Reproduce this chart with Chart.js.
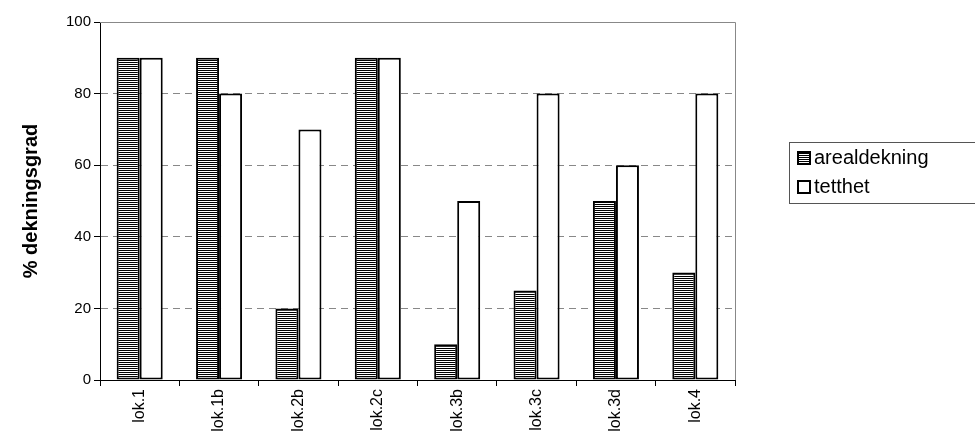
<!DOCTYPE html>
<html>
<head>
<script src="https://cdn.jsdelivr.net/npm/chart.js@4"></script>
<style>
body { margin: 0; background: #fff; font-family: "Liberation Sans", Arial, sans-serif; }
#wrap { position: relative; width: 975px; height: 448px; }
#legend { position: absolute; left: 789px; top: 142px; width: 190px; height: 62px; border: 1px solid #555; border-right: none; box-sizing: border-box; font-size: 20px; }
.item { display: flex; align-items: center; height: 29px; padding-left: 7px; }
.box { width: 14px; height: 14px; border: 2px solid #000; margin-right: 3px; box-sizing: border-box; }
</style>
</head>
<body>
<div id="wrap">
<canvas id="chart" width="975" height="448"></canvas>
<div id="legend">
  <div class="item"><span class="box" style="background: repeating-linear-gradient(#000 0 1px, #fff 1px 2px);"></span>arealdekning</div>
  <div class="item"><span class="box"></span>tetthet</div>
</div>
</div>
<script>
// data
const categories = ["lok.1", "lok.1b", "lok.2b", "lok.2c", "lok.3b", "lok.3c", "lok.3d", "lok.4"];
const arealdekning = [90, 90, 20, 90, 10, 25, 50, 30];
const tetthet = [90, 80, 70, 90, 50, 80, 60, 80];

// horizontal stripe pattern for the first series
const pc = document.createElement('canvas');
pc.width = 4; pc.height = 2;
const pctx = pc.getContext('2d');
pctx.fillStyle = '#fff'; pctx.fillRect(0, 0, 4, 2);
pctx.fillStyle = '#000'; pctx.fillRect(0, 0, 4, 1);
const stripes = pctx.createPattern(pc, 'repeat');

// gray frame around plot area
const frame = {
    id: 'frame',
    afterDraw(chart) {
        const a = chart.chartArea, c = chart.ctx;
        c.save();
        c.strokeStyle = '#888'; c.lineWidth = 1;
        c.beginPath();
        c.moveTo(a.left, a.top + 0.5); c.lineTo(a.right + 0.5, a.top + 0.5); c.lineTo(a.right + 0.5, a.bottom);
        c.stroke();
        c.restore();
    }
};

new Chart(document.getElementById('chart'), {
    type: 'bar',
    data: {
        labels: categories,
        datasets: [
            { label: 'arealdekning', data: arealdekning, backgroundColor: stripes, borderColor: '#000', borderWidth: 2, borderSkipped: false },
            { label: 'tetthet', data: tetthet, backgroundColor: '#fff', borderColor: '#000', borderWidth: 2, borderSkipped: false }
        ]
    },
    options: {
        responsive: false,
        animation: false,
        datasets: { bar: { categoryPercentage: 0.58, barPercentage: 1 } },
        layout: { padding: { top: 22, right: 240, left: 15 } },
        plugins: { legend: { display: false }, tooltip: { enabled: false } },
        scales: {
            x: {
                afterFit: s => { s.height = 68; },
                grid: { drawOnChartArea: false, color: '#000', tickLength: 6, offset: true },
                border: { color: '#000', width: 1 },
                ticks: { color: '#000', font: { family: 'Liberation Sans', size: 16 }, minRotation: 90, maxRotation: 90 },
            },
            y: {
                min: 0, max: 100,
                afterFit: s => { s.width = 85; },
                ticks: { stepSize: 20, color: '#000', font: { family: 'Liberation Sans', size: 15 } },
                grid: { color: '#888', tickLength: 6, tickColor: '#000' },
                border: { color: '#000', width: 1, dash: [7, 5] },
                title: { display: true, text: '% dekningsgrad', color: '#000', font: { family: 'Liberation Sans', size: 20, weight: 'bold' } }
            }
        }
    },
    plugins: [frame]
});
</script>
</body>
</html>
